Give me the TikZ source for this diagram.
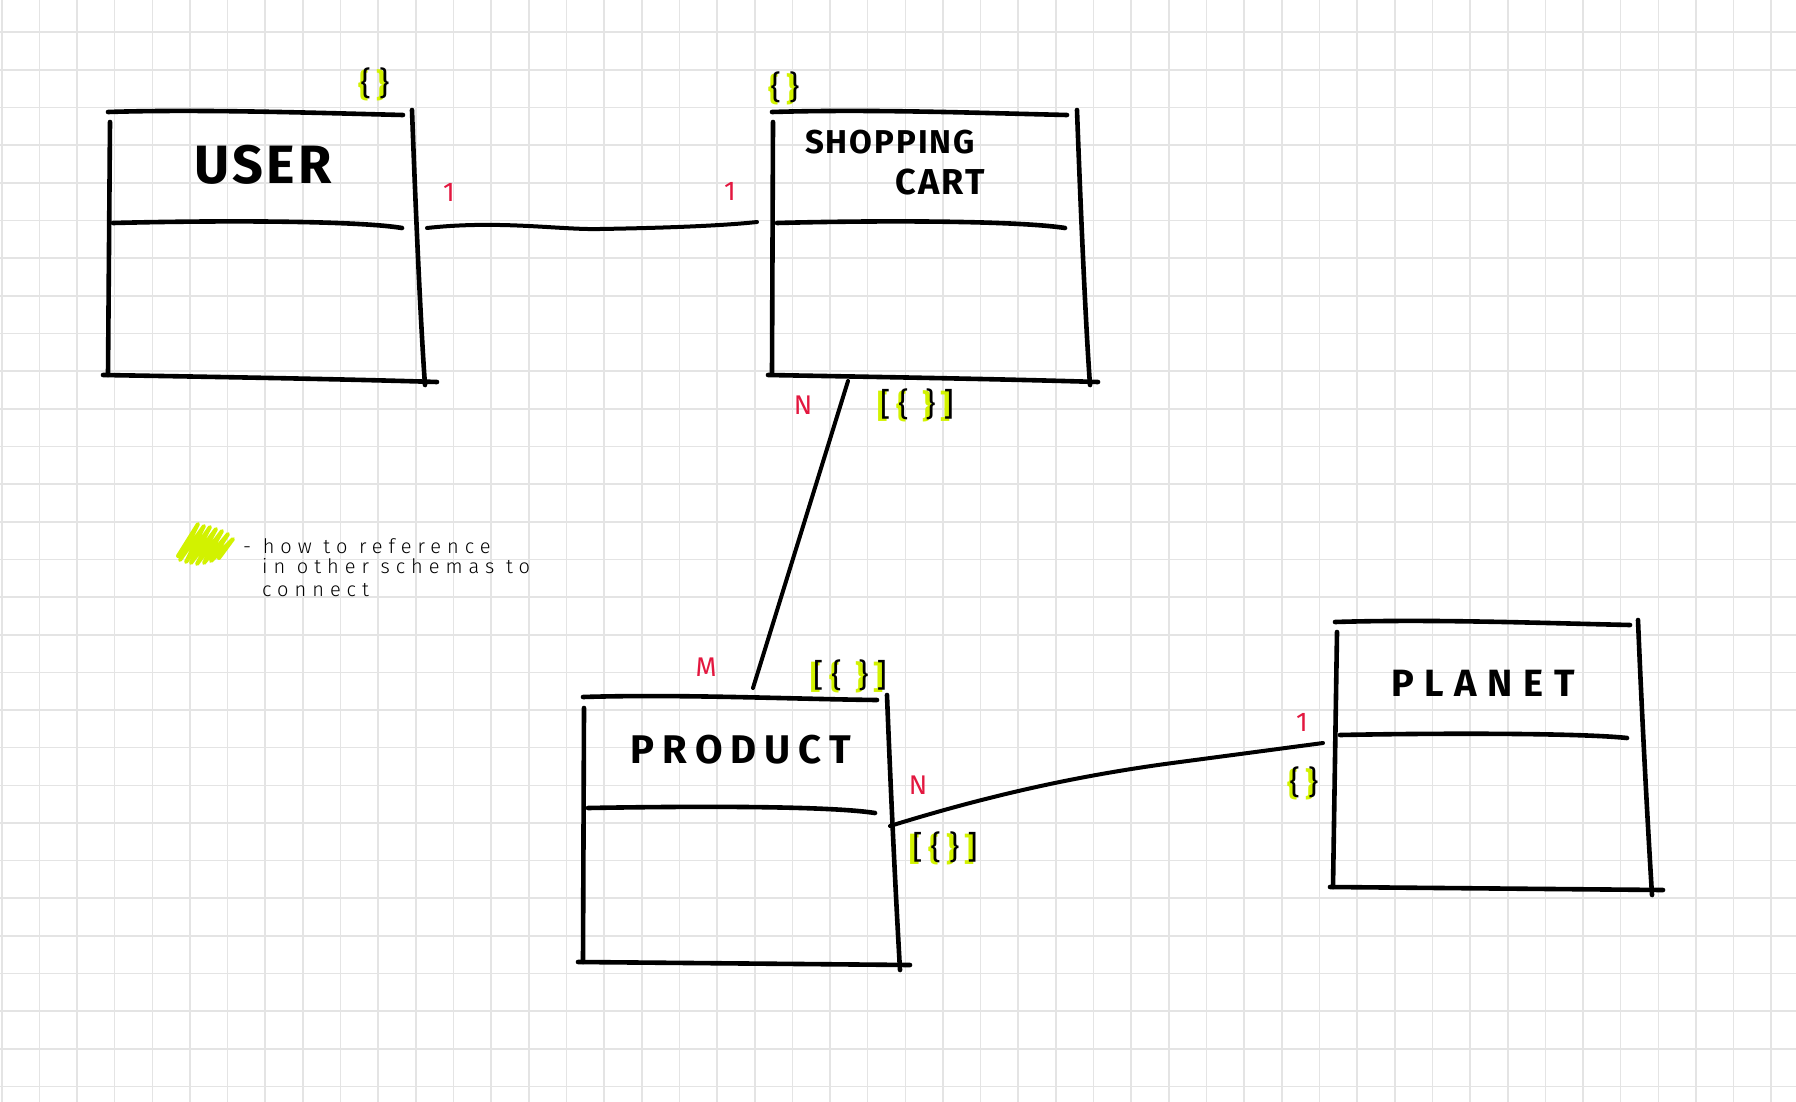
\documentclass[tikz,border=0pt]{standalone}
\usepackage{fontspec}
\setmainfont{Fira Sans}
\newfontfamily\titlefont{Fira Sans}[LetterSpace=6]
\newfontfamily\widefont{Fira Sans}[LetterSpace=20]
\newfontfamily\planetfont{Fira Sans}[LetterSpace=28]
\newfontfamily\notefont{Fira Sans Light}[LetterSpace=30]
\newfontfamily\labelfont{Fira Sans}
\newfontfamily\bracefont{Fira Sans}[LetterSpace=25]
\definecolor{gridc}{HTML}{E4E4E4}
\definecolor{redc}{HTML}{E3173F}
\definecolor{limec}{HTML}{D2F200}
\tikzset{
  gridline/.style={draw=gridc, line width=1.6pt},
  hand/.style={draw=black, line width=4.6pt, line cap=round, line join=round},
  conn/.style={draw=black, line width=4pt, line cap=round},
  boxarea/.style={draw=none, inner sep=0pt},
  ttl/.style={inner sep=0pt, font=\titlefont\bfseries\fontsize{54}{60}\selectfont},
  ttlsm/.style={inner sep=0pt, font=\titlefont\bfseries\fontsize{33}{38}\selectfont},
  ttlwide/.style={inner sep=0pt, font=\widefont\bfseries\fontsize{40}{46}\selectfont},
  card/.style={inner sep=0pt, text=redc, font=\labelfont\fontsize{27}{30}\selectfont},
  hlback/.style={inner sep=0pt, text=limec, xshift=-2.5pt, yshift=-2pt, font=\bracefont\bfseries\fontsize{32}{36}\selectfont},
  hlfront/.style={inner sep=0pt, text=black, font=\bracefont\fontsize{32}{36}\selectfont},
  note/.style={inner sep=0pt, anchor=base west, font=\notefont\fontsize{20}{24}\selectfont},
  scrib/.style={draw=limec, line width=4pt, line cap=round, line join=round},
}
\newcommand\hlbrace[3]{%
  \node[hlback] (#1h) at (#2) {#3};
  \node[hlfront] (#1) at (#2) {#3};}
\begin{document}
\begin{tikzpicture}[x=1pt,y=-1pt]
\useasboundingbox (0,0) rectangle (1796,1102);
\fill[white] (0,0) rectangle (1796,1102);
% grid
\foreach \i in {0,...,47} \draw[gridline] ({1.7+\i*37.65},0) -- ({1.7+\i*37.65},1102);
\foreach \j in {0,...,28} \draw[gridline] (0,{32.3+\j*37.65}) -- (1796,{32.3+\j*37.65});

% ---------- USER ----------
\node[boxarea, minimum width=320pt, minimum height=270pt] (user) at (268,248) {};
\draw[hand] (108,112) .. controls (200,109) and (320,113) .. (403,115);
\draw[hand] (110,122) -- (108,375);
\draw[hand] (412,110) .. controls (416,220) and (421,330) .. (425,385);
\draw[hand] (103,375) .. controls (220,377) and (340,379) .. (437,382);
\draw[hand] (113,223) .. controls (230,220) and (360,221) .. (402,228);
\node[ttl] (userT) at (263,165) {USER};
\hlbrace{userB}{375,83}{\{\}}

% ---------- SHOPPING CART ----------
\node[boxarea, minimum width=320pt, minimum height=270pt] (cart) at (932,248) {};
\draw[hand] (772,112) .. controls (870,109) and (980,113) .. (1067,115);
\draw[hand] (773,122) -- (772,373);
\draw[hand] (1077,110) .. controls (1081,220) and (1086,330) .. (1090,385);
\draw[hand] (768,375) .. controls (880,377) and (1000,379) .. (1098,382);
\draw[hand] (777,223) .. controls (890,220) and (1020,221) .. (1065,228);
\node[ttlsm] (cartT1) at (890,142) {SHOPPING};
\node[ttlsm, font=\titlefont\bfseries\fontsize{36}{40}\selectfont] (cartT2) at (940,182) {CART};
\hlbrace{cartB}{785,87}{\{\}}

% ---------- PRODUCT ----------
\node[boxarea, minimum width=320pt, minimum height=270pt] (product) at (742,832) {};
\draw[hand] (583,697) .. controls (680,694) and (790,699) .. (877,700);
\draw[hand] (584,708) -- (583,962);
\draw[hand] (887,695) .. controls (891,800) and (896,900) .. (900,970);
\draw[hand] (578,962) .. controls (690,963) and (800,964) .. (910,965);
\draw[hand] (588,808) .. controls (700,806) and (830,806) .. (875,813);
\node[ttlwide] (productT) at (741,750) {PRODUCT};

% ---------- PLANET ----------
\node[boxarea, minimum width=320pt, minimum height=270pt] (planet) at (1493,756) {};
\draw[hand] (1335,622) .. controls (1430,619) and (1540,623) .. (1630,625);
\draw[hand] (1337,632) -- (1333,887);
\draw[hand] (1638,620) .. controls (1642,720) and (1648,830) .. (1652,895);
\draw[hand] (1330,887) .. controls (1440,888) and (1550,889) .. (1663,890);
\draw[hand] (1340,735) .. controls (1440,733) and (1580,733) .. (1627,738);
\node[inner sep=0pt, font=\planetfont\bfseries\fontsize{38}{44}\selectfont] (planetT) at (1483,683) {PLANET};

% ---------- connectors ----------
\coordinate (uc1) at (427,228);
\coordinate (uc2) at (757,222);
\draw[conn] (uc1) .. controls (500,220) and (560,230) .. (600,229)
  .. controls (660,228) and (720,226) .. (uc2);
\coordinate (cp1) at (848,381);
\coordinate (cp2) at (753,688);
\draw[conn] (cp1) -- (cp2);
\coordinate (pp1) at (890,826);
\coordinate (pp2) at (1323,743);
\draw[conn] (pp1) .. controls (990,795) and (1080,775) .. (1180,762) -- (pp2);

% cardinalities
\node[card] (c1) at (449,192) {1};
\node[card] (c2) at (730,191) {1};
\node[card] (c3) at (803,405) {N};
\node[card] (c4) at (706,667) {M};
\node[card] (c5) at (918,785) {N};
\node[card] (c6) at (1302,722) {1};

% brace references
\hlbrace{cpB}{917,404}{[\{\ \}]}
\hlbrace{prB}{850,675}{[\{\ \}]}
\hlbrace{pnB}{945,847}{[\{\}]}
\hlbrace{plB}{1304,782}{\{\}}

% ---------- note ----------
\draw[scrib] (178,556) -- (198,524) -- (180,560) -- (204,526) -- (186,562) -- (210,527) -- (191,563) -- (216,529) -- (197,564) -- (222,531) -- (204,563) -- (228,534) -- (211,561) -- (233,539) -- (219,558);
\node[note] (n1) at (243,553) {- how to reference};
\node[note] (n2) at (262,573) {in other schemas to};
\node[note] (n3) at (262,596) {connect};
\end{tikzpicture}
\end{document}
